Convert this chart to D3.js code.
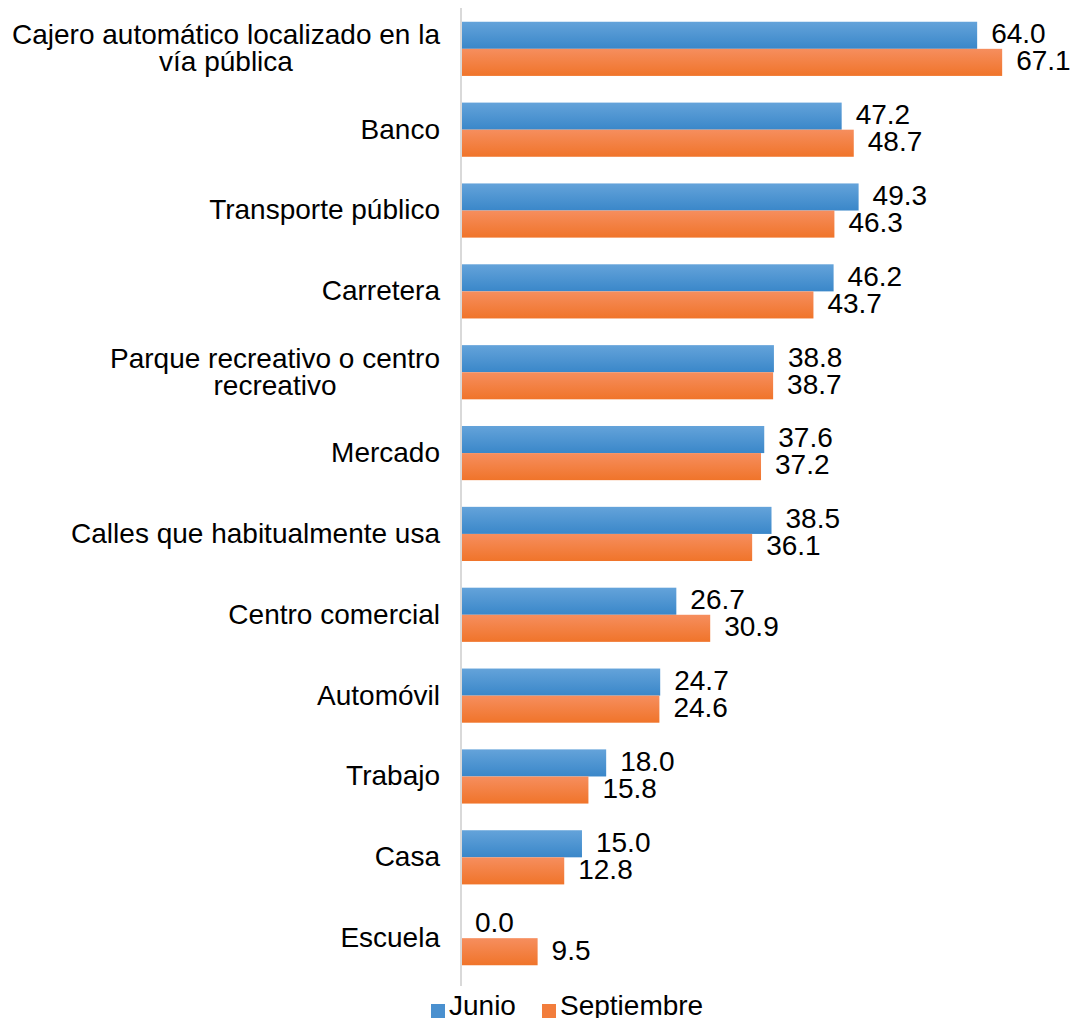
<!DOCTYPE html>
<html>
<head>
<meta charset="utf-8">
<script src="https://d3js.org/d3.v7.min.js"></script>
<style>
  body { margin: 0; background: #fff; overflow: hidden; }
  text { font-family: "Liberation Sans", Arial, sans-serif; fill: #000; }
</style>
</head>
<body>
<div id="chart"></div>
<script>
// Categories (top to bottom) and values per series
let categories = [
    "Cajero automático localizado en la\nvía pública",
    "Banco",
    "Transporte público",
    "Carretera",
    "Parque recreativo o centro\nrecreativo",
    "Mercado",
    "Calles que habitualmente usa",
    "Centro comercial",
    "Automóvil",
    "Trabajo",
    "Casa",
    "Escuela"
];
let junio = [64.0, 47.2, 49.3, 46.2, 38.8, 37.6, 38.5, 26.7, 24.7, 18.0, 15.0, 0.0];
let septiembre = [67.1, 48.7, 46.3, 43.7, 38.7, 37.2, 36.1, 30.9, 24.6, 15.8, 12.8, 9.5];
let seriesNames = ["Junio", "Septiembre"];

let width = 1073;
let height = 1018;

let svg = d3.select('#chart')
    .append('svg')
    .attr('width', width)
    .attr('height', height)
    .style('display', 'block');

// Gradients like the spreadsheet bars
let defs = svg.append('defs');
let grads = [
    { id: 'gBlue', top: '#64a3da', bottom: '#3a87c9' },
    { id: 'gOrange', top: '#f68e5e', bottom: '#f0742a' }
];
grads.forEach(function(g) {
    let lg = defs.append('linearGradient')
        .attr('id', g.id)
        .attr('x1', 0).attr('y1', 0)
        .attr('x2', 0).attr('y2', 1);
    lg.append('stop').attr('offset', '0%').attr('stop-color', g.top);
    lg.append('stop').attr('offset', '100%').attr('stop-color', g.bottom);
});
let fills = ['url(#gBlue)', 'url(#gOrange)'];
let legendColors = ['#4a90cf', '#f27d3c'];

// Scales
let x = d3.scaleLinear()
    .domain([0, 70])
    .range([461, 461 + 70 * 8.065]);

let y = d3.scaleBand()
    .domain(categories)
    .range([8, 979])
    .paddingInner(0.33)
    .paddingOuter(0.17);

let inner = d3.scaleBand()
    .domain(seriesNames)
    .range([0, y.bandwidth()]);

let data = categories.map(function(c, i) {
    return { cat: c, values: [junio[i], septiembre[i]] };
});

// Bars
let groups = svg.append('g')
    .selectAll('g')
    .data(data)
    .enter()
    .append('g')
    .attr('transform', function(d) { return 'translate(0,' + y(d.cat) + ')'; });

groups.selectAll('rect')
    .data(function(d) { return d.values.map(function(v, k) { return { v: v, k: k }; }); })
    .enter()
    .append('rect')
    .attr('x', x(0))
    .attr('y', function(d) { return inner(seriesNames[d.k]); })
    .attr('width', function(d) { return x(d.v) - x(0); })
    .attr('height', inner.bandwidth())
    .attr('fill', function(d) { return fills[d.k]; });

// Value labels
groups.selectAll('text.val')
    .data(function(d) { return d.values.map(function(v, k) { return { v: v, k: k }; }); })
    .enter()
    .append('text')
    .attr('class', 'val')
    .attr('x', function(d) { return x(d.v) + 14; })
    .attr('y', function(d) { return inner(seriesNames[d.k]) + inner.bandwidth() / 2; })
    .attr('dy', '0.28em')
    .style('font-size', '28px')
    .text(function(d) { return d.v.toFixed(1); });

// Vertical axis line
svg.append('line')
    .attr('x1', x(0)).attr('x2', x(0))
    .attr('y1', 8).attr('y2', 986)
    .attr('stroke', '#d9d9d9')
    .attr('stroke-width', 2);

// Category labels (multi-line ones are centred within their block)
let labelRight = 440;
let lineH = 27;
categories.forEach(function(c) {
    let lines = c.split('\n');
    let cy = y(c) + y.bandwidth() / 2;
    let t = svg.append('text')
        .style('font-size', '28px');
    lines.forEach(function(l, i) {
        t.append('tspan')
            .attr('y', cy + (i - (lines.length - 1) / 2) * lineH)
            .attr('dy', '0.32em')
            .text(l);
    });
    let spans = t.selectAll('tspan').nodes();
    let maxW = d3.max(spans, function(s) { return s.getComputedTextLength(); });
    spans.forEach(function(s) {
        let w = s.getComputedTextLength();
        d3.select(s).attr('x', labelRight - maxW + (maxW - w) / 2);
    });
});

// Legend
let legend = svg.append('g');
let legendX = [431, 542];
seriesNames.forEach(function(name, i) {
    legend.append('rect')
        .attr('x', legendX[i])
        .attr('y', 1004)
        .attr('width', 14)
        .attr('height', 14)
        .attr('fill', legendColors[i]);
    legend.append('text')
        .attr('x', legendX[i] + 18)
        .attr('y', 1015)
        .style('font-size', '28px')
        .text(name);
});
</script>
</body>
</html>
